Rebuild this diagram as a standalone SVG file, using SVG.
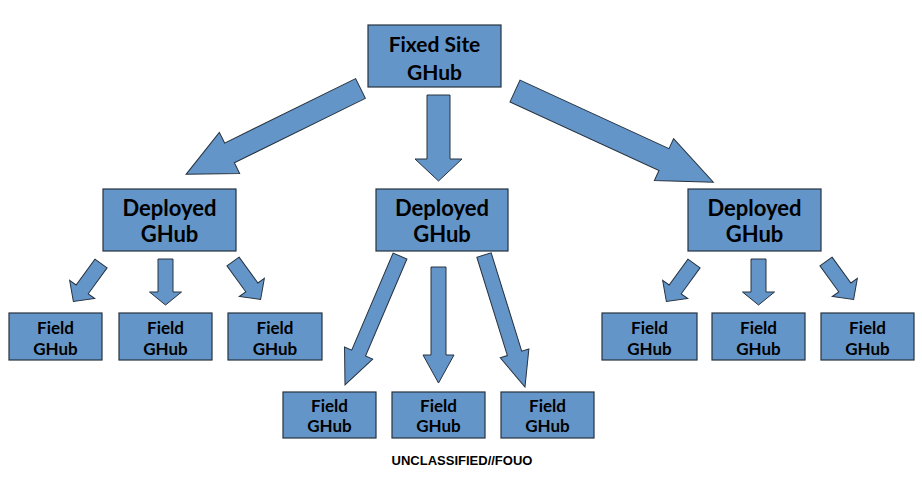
<svg xmlns="http://www.w3.org/2000/svg" width="922" height="490" viewBox="0 0 922 490">
<style>
.box{fill:#6495c8;stroke:#26323f;stroke-width:1.2}
.arr{fill:#6495c8;stroke:#26323f;stroke-width:1}
.t{font-family:Lato,"Liberation Sans",sans-serif;font-weight:bold;fill:#000;text-anchor:middle}
.top{font-size:21px}
.dep{font-size:22px}
.fld{font-size:17px}
.foot{font-family:"Liberation Sans",Arial,sans-serif;font-weight:bold;font-size:13px;text-anchor:middle;fill:#000}
</style>
<rect width="922" height="490" fill="#fff"/>
<g id="connectors">
  <polygon class="arr" transform="translate(360.5,88.5) rotate(153.8)" points="0,-11 146,-11 146,-23 194.4,0 146,23 146,11 0,11"/>
  <polygon class="arr" transform="translate(438.5,95) rotate(90)" points="0,-11.5 64,-11.5 64,-23.5 86,0 64,23.5 64,11.5 0,11.5"/>
  <polygon class="arr" transform="translate(515,91) rotate(24.7)" points="0,-12 164,-12 164,-23 218.3,0 164,23 164,12 0,12"/>
  <polygon class="arr" transform="translate(101,263.5) rotate(126)" points="0,-7.5 32,-7.5 32,-15.5 47,0 32,15.5 32,7.5 0,7.5"/>
  <polygon class="arr" transform="translate(165.5,259) rotate(90)" points="0,-7.5 33,-7.5 33,-16 46,0 33,16 33,7.5 0,7.5"/>
  <polygon class="arr" transform="translate(233,261.5) rotate(54)" points="0,-7.5 32,-7.5 32,-15.5 47,0 32,15.5 32,7.5 0,7.5"/>
  <polygon class="arr" transform="translate(400,256) rotate(113.1)" points="0,-7.5 105.5,-7.5 105.5,-15.3 140.2,0 105.5,15.3 105.5,7.5 0,7.5"/>
  <polygon class="arr" transform="translate(438.5,267) rotate(90)" points="0,-7.5 88,-7.5 88,-15.5 116,0 88,15.5 88,7.5 0,7.5"/>
  <polygon class="arr" transform="translate(484,255) rotate(72.75)" points="0,-7.5 103,-7.5 103,-15 138.2,0 103,15 103,7.5 0,7.5"/>
  <polygon class="arr" transform="translate(694,263.5) rotate(126)" points="0,-7.5 32,-7.5 32,-15.5 47,0 32,15.5 32,7.5 0,7.5"/>
  <polygon class="arr" transform="translate(758.5,259) rotate(90)" points="0,-7.5 33,-7.5 33,-16 46,0 33,16 33,7.5 0,7.5"/>
  <polygon class="arr" transform="translate(826,261.5) rotate(54)" points="0,-7.5 32,-7.5 32,-15.5 47,0 32,15.5 32,7.5 0,7.5"/>
</g>
<g id="fixed-site">
  <rect class="box" x="368" y="25" width="133" height="62"/>
  <text class="t top" x="434.5" y="52">Fixed Site</text>
  <text class="t top" x="434.5" y="80">GHub</text>
</g>
<g id="deployed-left">
  <rect class="box" x="103" y="189" width="133" height="62"/>
  <text class="t dep" x="169.5" y="216">Deployed</text>
  <text class="t dep" x="169.5" y="242">GHub</text>
</g>
<g id="deployed-center">
  <rect class="box" x="376" y="189" width="132" height="62"/>
  <text class="t dep" x="442" y="216">Deployed</text>
  <text class="t dep" x="442" y="242">GHub</text>
</g>
<g id="deployed-right">
  <rect class="box" x="688" y="189" width="133" height="62"/>
  <text class="t dep" x="754.5" y="216">Deployed</text>
  <text class="t dep" x="754.5" y="242">GHub</text>
</g>
<g id="field-l1">
  <rect class="box" x="9" y="313" width="93" height="47"/>
  <text class="t fld" x="55.5" y="334">Field</text>
  <text class="t fld" x="55.5" y="355">GHub</text>
</g>
<g id="field-l2">
  <rect class="box" x="119" y="313" width="93" height="47"/>
  <text class="t fld" x="165.5" y="334">Field</text>
  <text class="t fld" x="165.5" y="355">GHub</text>
</g>
<g id="field-l3">
  <rect class="box" x="228" y="313" width="94" height="47"/>
  <text class="t fld" x="275" y="334">Field</text>
  <text class="t fld" x="275" y="355">GHub</text>
</g>
<g id="field-c1">
  <rect class="box" x="283" y="392" width="93" height="46"/>
  <text class="t fld" x="329.5" y="412">Field</text>
  <text class="t fld" x="329.5" y="432">GHub</text>
</g>
<g id="field-c2">
  <rect class="box" x="392" y="392" width="93" height="46"/>
  <text class="t fld" x="438.5" y="412">Field</text>
  <text class="t fld" x="438.5" y="432">GHub</text>
</g>
<g id="field-c3">
  <rect class="box" x="501" y="392" width="93" height="46"/>
  <text class="t fld" x="547.5" y="412">Field</text>
  <text class="t fld" x="547.5" y="432">GHub</text>
</g>
<g id="field-r1">
  <rect class="box" x="602" y="313" width="95" height="47"/>
  <text class="t fld" x="649.5" y="334">Field</text>
  <text class="t fld" x="649.5" y="355">GHub</text>
</g>
<g id="field-r2">
  <rect class="box" x="712" y="313" width="93" height="47"/>
  <text class="t fld" x="758.5" y="334">Field</text>
  <text class="t fld" x="758.5" y="355">GHub</text>
</g>
<g id="field-r3">
  <rect class="box" x="821" y="313" width="93" height="47"/>
  <text class="t fld" x="867.5" y="334">Field</text>
  <text class="t fld" x="867.5" y="355">GHub</text>
</g>
<text class="foot" x="462" y="465">UNCLASSIFIED//FOUO</text>
</svg>
